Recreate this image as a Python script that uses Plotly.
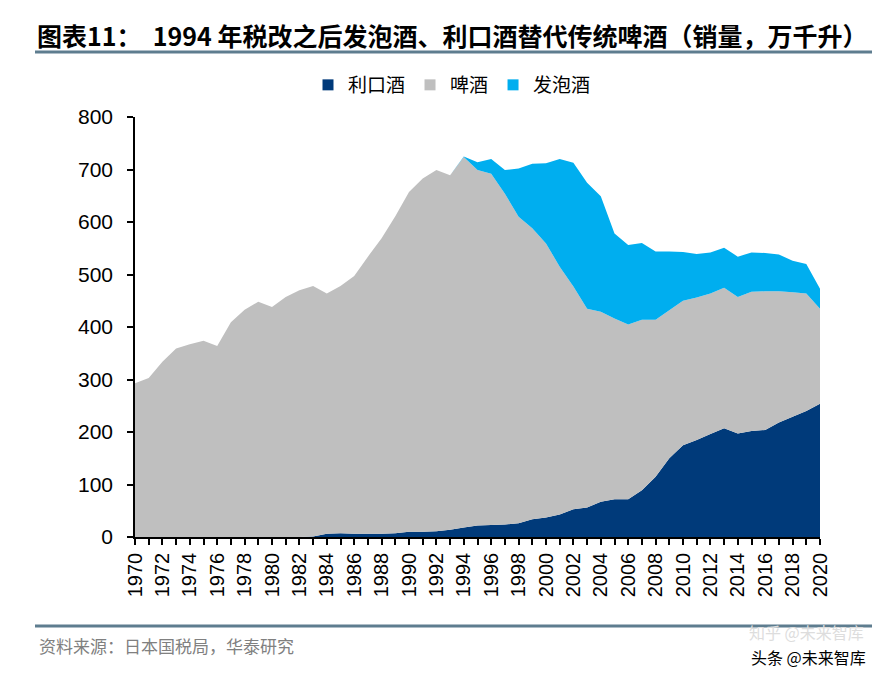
import plotly.graph_objects as go

years = list(range(1970, 2021))

liqueur = [0, 0, 0, 0, 0, 0, 0, 0, 0, 0,
           0, 0, 0, 1, 6, 7, 6, 6, 6, 7,
           10, 10, 11, 14, 18, 22, 23, 24, 26, 34,
           37, 43, 53, 56, 67, 72, 72, 89, 115, 150,
           175, 185, 196, 207, 197, 202, 204, 218, 229, 240,
           254]

beer = [293, 303, 334, 359, 367, 374, 364, 409, 433, 448,
        438, 457, 470, 477, 458, 471, 491, 528, 563, 604,
        647, 673, 688, 675, 706, 677, 669, 630, 584, 554,
        522, 472, 424, 379, 362, 344, 333, 325, 299, 282,
        275, 271, 268, 268, 260, 265, 264, 250, 237, 224,
        181]

happoshu = [0, 0, 0, 0, 0, 0, 0, 0, 0, 0,
            0, 0, 0, 0, 0, 0, 0, 0, 0, 0,
            0, 0, 0, 0, 1, 15, 28, 45, 92, 123,
            153, 205, 236, 240, 220, 162, 151, 146, 130, 112,
            93, 83, 78, 76, 77, 75, 73, 70, 60, 56,
            38]

series_names = ["利口酒", "啤酒", "发泡酒"]
colors = ["#003A7A", "#BFBFBF", "#00AEEF"]

tick_text = [str(y) if y % 2 == 0 else "" for y in years]

fig = go.Figure()
for name, vals, c in zip(series_names, [liqueur, beer, happoshu], colors):
    fig.add_trace(go.Scatter(x=years, y=vals, name=name, stackgroup="one",
                             mode="none", fillcolor=c, line=dict(width=0),
                             showlegend=False, hoverinfo="x+y+name"))
for name, c in zip(series_names, colors):
    fig.add_trace(go.Scatter(x=[None], y=[None], name=name, mode="markers",
                             marker=dict(symbol="square", size=11, color=c),
                             showlegend=True))

# page body has an 8px margin; work in screen coords and shift
OFF = 8
L, R, T, B = 135 - OFF, 820 - OFF, 117 - OFF, 537 - OFF
W, H = R - L, B - T
def px(x): return (x - OFF - L) / W
def py(y): return (B - (y - OFF)) / H

line_col = "#5E7D8F"
fig.add_shape(type="line", xref="paper", yref="paper", x0=px(35), x1=px(872),
              y0=py(52), y1=py(52), line=dict(color=line_col, width=3))
fig.add_shape(type="line", xref="paper", yref="paper", x0=px(35), x1=px(872),
              y0=py(626), y1=py(626), line=dict(color=line_col, width=3))

fig.add_annotation(xref="paper", yref="paper", x=px(35), y=py(35), xanchor="left",
                   yanchor="middle", showarrow=False,
                   text="<b>图表11：  1994 年税改之后发泡酒、利口酒替代传统啤酒（销量，万千升）</b>",
                   font=dict(family="Noto Sans CJK SC", size=25, color="#000000"))
fig.add_annotation(xref="paper", yref="paper", x=px(37), y=py(645), xanchor="left",
                   yanchor="middle", showarrow=False,
                   text="资料来源：日本国税局，华泰研究",
                   font=dict(family="Noto Sans CJK SC", size=17, color="#808080"))
fig.add_annotation(xref="paper", yref="paper", x=px(866), y=py(632), xanchor="right",
                   yanchor="middle", showarrow=False,
                   text="知乎 @未来智库",
                   font=dict(family="Noto Sans CJK SC", size=16, color="#DDDDDD"))
fig.add_annotation(xref="paper", yref="paper", x=px(868), y=py(657), xanchor="right",
                   yanchor="middle", showarrow=False,
                   text="头条 @未来智库",
                   font=dict(family="Noto Sans CJK SC", size=16, color="#000000"))

fig.update_layout(
    width=887, height=679,
    margin=dict(l=L, r=887 - R, t=T, b=679 - B, autoexpand=False),
    paper_bgcolor="white", plot_bgcolor="white",
    font=dict(family="Liberation Sans, Arial", color="#000000"),
    showlegend=True,
    legend=dict(orientation="h", xref="container", yref="container",
                x=(452 - OFF) / 887, y=1 - (85 - OFF) / 679, xanchor="center", yanchor="middle",
                traceorder="normal",
                font=dict(family="Noto Sans CJK SC", size=19, color="#000000"),
                itemwidth=30, tracegroupgap=0, bgcolor="rgba(0,0,0,0)"),
    xaxis=dict(range=[1970, 2020], tickmode="array", tickvals=years, ticktext=tick_text,
               tickangle=-90, ticks="outside", ticklen=6, tickcolor="#000000", tickwidth=1.5,
               showline=True, linecolor="#000000", linewidth=1.5, showgrid=False,
               zeroline=False, automargin=False,
               tickfont=dict(size=20, family="Liberation Sans, Arial")),
    yaxis=dict(range=[0, 800], dtick=100, ticks="outside", ticklen=6, tickcolor="#000000",
               tickwidth=1.5, showline=True, linecolor="#000000", linewidth=1.5,
               showgrid=False, zeroline=False, automargin=False, ticklabelstandoff=10,
               tickfont=dict(size=21, family="Liberation Sans, Arial")),
)

fig.write_html("out.html")
